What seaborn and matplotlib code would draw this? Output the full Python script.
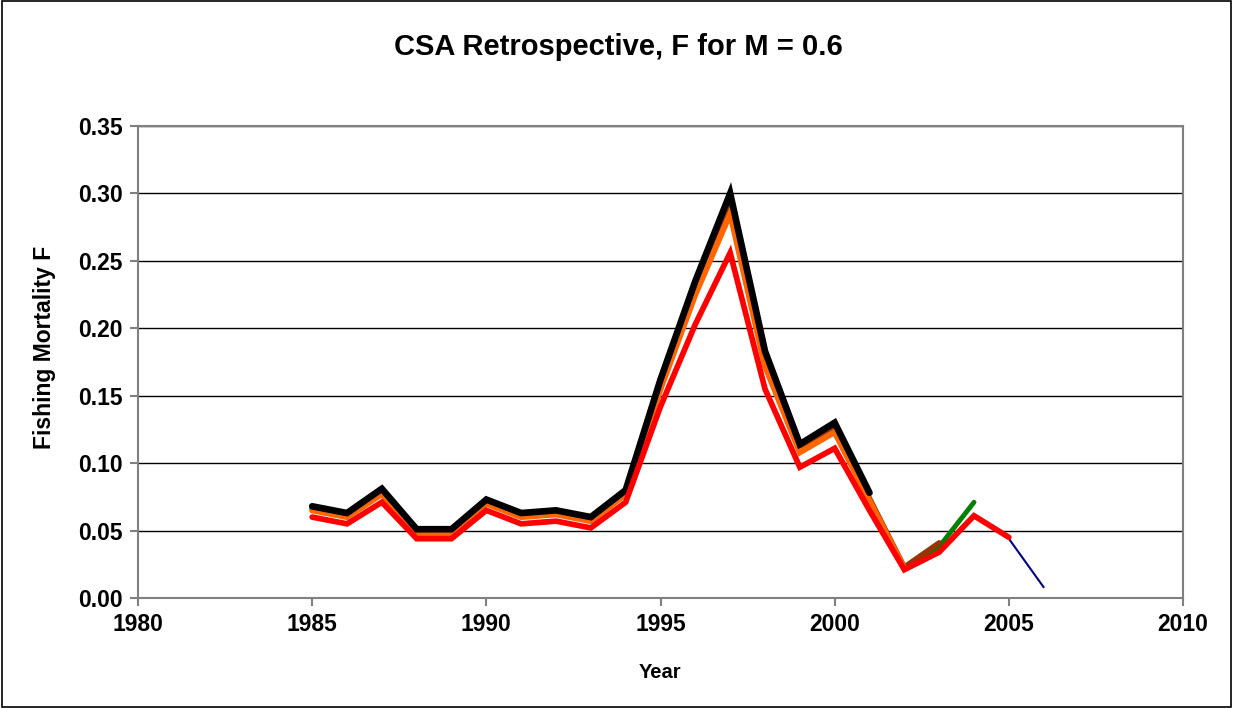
import numpy as np
import pandas as pd
import matplotlib
matplotlib.use("Agg")
import matplotlib.pyplot as plt
from matplotlib.patches import Rectangle
from matplotlib.ticker import FormatStrFormatter
import seaborn as sns

# Retrospective estimates of fishing mortality, one run per terminal year
years_2001 = list(range(1985, 2002))
f_2001 = [0.068, 0.063, 0.081, 0.051, 0.051, 0.073, 0.063, 0.065, 0.060, 0.080,
          0.162, 0.235, 0.300, 0.183, 0.114, 0.130, 0.078]

years_2002 = list(range(1985, 2003))
f_2002 = [0.065, 0.060, 0.077, 0.048, 0.048, 0.070, 0.060, 0.062, 0.057, 0.077,
          0.155, 0.225, 0.285, 0.172, 0.108, 0.123, 0.072, 0.022]

years_2003 = list(range(1985, 2004))
f_2003 = [0.066, 0.061, 0.078, 0.049, 0.049, 0.071, 0.061, 0.063, 0.058, 0.078,
          0.158, 0.229, 0.292, 0.176, 0.110, 0.127, 0.074, 0.023, 0.041]

years_2004 = list(range(1985, 2005))
f_2004 = [0.066, 0.061, 0.078, 0.049, 0.049, 0.071, 0.061, 0.063, 0.058, 0.078,
          0.157, 0.228, 0.289, 0.175, 0.109, 0.125, 0.073, 0.022, 0.038, 0.071]

years_2005 = list(range(1985, 2006))
f_2005 = [0.060, 0.055, 0.071, 0.044, 0.044, 0.065, 0.055, 0.057, 0.052, 0.071,
          0.142, 0.203, 0.256, 0.155, 0.097, 0.111, 0.065, 0.021, 0.034, 0.061, 0.045]

years_2006 = list(range(1985, 2007))
f_2006 = [0.060, 0.055, 0.071, 0.044, 0.044, 0.065, 0.055, 0.057, 0.052, 0.071,
          0.142, 0.203, 0.255, 0.154, 0.096, 0.110, 0.065, 0.021, 0.034, 0.061, 0.044, 0.008]

runs = {
    "2006": (years_2006, f_2006),
    "2004": (years_2004, f_2004),
    "2003": (years_2003, f_2003),
    "2002": (years_2002, f_2002),
    "2001": (years_2001, f_2001),
    "2005": (years_2005, f_2005),
}

styles = {
    "2006": dict(color="#000080", lw=1.5),
    "2004": dict(color="#008000", lw=3.5),
    "2003": dict(color="#993300", lw=3.8),
    "2002": dict(color="#FF6600", lw=4.3),
    "2001": dict(color="#000000", lw=4.8),
    "2005": dict(color="#FF0000", lw=4.1),
}

frames = []
for run, (yrs, vals) in runs.items():
    frames.append(pd.DataFrame({"Year": yrs, "F": vals, "run": run}))
df = pd.concat(frames, ignore_index=True)

sns.set_theme(style="white")
plt.rcParams["font.family"] = ["Liberation Sans", "DejaVu Sans"]
plt.rcParams["text.color"] = "black"
plt.rcParams["axes.labelcolor"] = "black"

fig = plt.figure(figsize=(12.33, 7.08), dpi=100)
ax = fig.add_axes([138 / 1233, 1 - 598 / 708, (1183 - 138) / 1233, (598 - 126) / 708])

for z, run in enumerate(runs):
    st = styles[run]
    sns.lineplot(data=df[df["run"] == run], x="Year", y="F", ax=ax,
                 color=st["color"], linewidth=st["lw"], zorder=3 + z,
                 solid_joinstyle="miter", legend=False)

ax.set_xlim(1980, 2010)
ax.set_ylim(0, 0.35)
ax.set_xticks(np.arange(1980, 2011, 5))
ax.set_yticks(np.arange(0, 0.351, 0.05))
ax.yaxis.set_major_formatter(FormatStrFormatter("%.2f"))
ax.grid(axis="y", color="#000000", linewidth=1.0, zorder=1)
ax.set_axisbelow(True)

for sp in ax.spines.values():
    sp.set_color("#808080")
    sp.set_linewidth(1.5)

ax.tick_params(axis="both", direction="out", length=6, width=1.5, color="#808080",
               labelcolor="black", labelsize=16.5, pad=5, bottom=True, left=True)
for lab in ax.get_xticklabels() + ax.get_yticklabels():
    lab.set_fontweight("bold")

ax.set_xlabel("")
ax.set_ylabel("")
fig.text(660 / 1233, 1 - 672 / 708, "Year", ha="center", va="center",
         fontsize=14.5, fontweight="bold")
fig.text(45 / 1233, 1 - 347 / 708, "Fishing Mortality F", ha="center", va="center",
         rotation=90, fontsize=16.5, fontweight="bold")
fig.text(618 / 1233, 1 - 47 / 708, "CSA Retrospective, F for M = 0.6", ha="center",
         va="center", fontsize=21, fontweight="bold")

# Figure frame
fig.patches.append(Rectangle((0.002, 0.002), 0.996, 0.996, transform=fig.transFigure,
                             fill=False, edgecolor="black", linewidth=1.2))

fig.savefig("out.png", dpi=100)
